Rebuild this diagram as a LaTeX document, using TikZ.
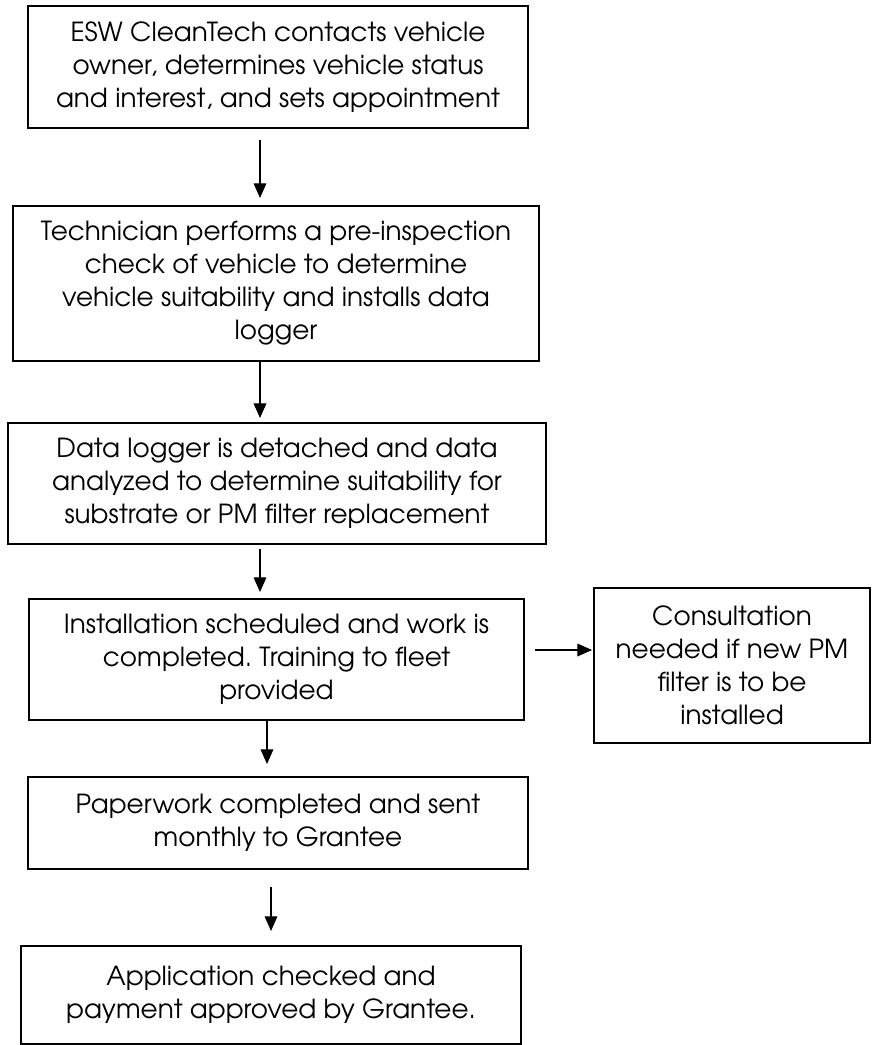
\documentclass[tikz,border=0pt]{standalone}
\usepackage{fontspec}
\setmainfont{TeX Gyre Adventor}
\frenchspacing
\usetikzlibrary{arrows.meta}

\begin{document}
\begin{tikzpicture}[x=0.75pt,y=-0.75pt,
    stepbox/.style={draw,line width=1.5pt,align=center,inner sep=0pt,
      font=\fontsize{19.7}{24.75}\selectfont},
    flow/.style={-{Triangle[length=11pt,width=9.5pt]},line width=0.9pt}]
  \useasboundingbox (0,0) rectangle (871,1045);

  \node[stepbox,minimum width=375pt,minimum height=91.5pt] (step1) at (278,67)
    {ESW CleanTech contacts vehicle\\owner, determines vehicle status\\and interest, and sets appointment};
  \node[stepbox,minimum width=394.5pt,minimum height=116.25pt] (step2) at (276,283.5)
    {Technician performs a pre-inspection\\check of vehicle to determine\\vehicle suitability and installs data\\logger};
  \node[stepbox,minimum width=403.5pt,minimum height=90.75pt] (step3) at (277,483.5)
    {Data logger is detached and data\\analyzed to determine suitability for\\substrate or PM filter replacement};
  \node[stepbox,minimum width=371.25pt,minimum height=90.75pt] (step4) at (276.5,659.5)
    {Installation scheduled and work is\\completed. Training to fleet\\provided};
  \node[stepbox,minimum width=207pt,minimum height=116.25pt] (consult) at (732,665.5)
    {Consultation\\needed if new PM\\filter is to be\\installed};
  \node[stepbox,minimum width=375pt,minimum height=69pt] (step5) at (278,823)
    {Paperwork completed and sent\\monthly to Grantee};
  \node[stepbox,minimum width=375pt,minimum height=73.5pt] (step6) at (271,995)
    {Application checked and\\payment approved by Grantee.};

  % arrows down the page
  \foreach \a/\b/\x/\s/\e in {step1/step2/260/8.25/5.25, step2/step3/260/0/3,
      step3/step4/260/3/4.5, step4/step5/267/0/9, step5/step6/271/12.75/10.5} {
    \coordinate (c) at (\x,0);
    \draw[flow,shorten <=\s pt,shorten >=\e pt] (\a.south -| c) -- (\b.north -| c);
  }
  \coordinate (side) at (0,650);
  \draw[flow,shorten <=7.5pt,shorten >=0.75pt] (step4.east |- side) -- (consult.west |- side);
\end{tikzpicture}
\end{document}
